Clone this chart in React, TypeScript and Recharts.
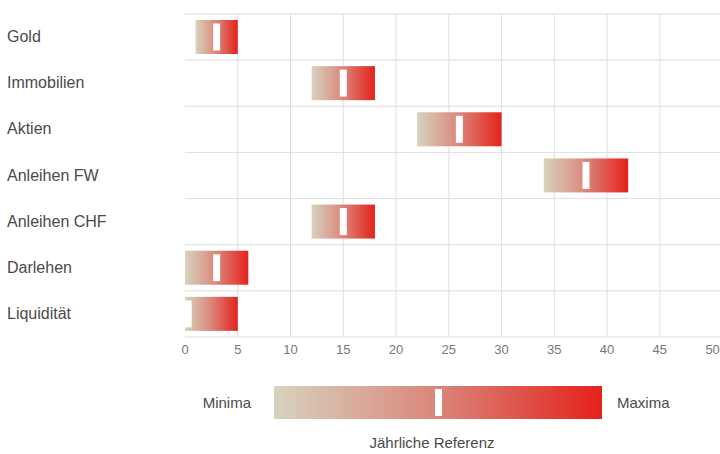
import { BarChart, Bar, XAxis, YAxis, CartesianGrid } from 'recharts'

const categories = ['Gold', 'Immobilien', 'Aktien', 'Anleihen FW', 'Anleihen CHF', 'Darlehen', 'Liquidität']
const minima = [1, 12, 22, 34, 12, 0, 0]
const maxima = [5, 18, 30, 42, 18, 6, 5]
const referenz = [3, 15, 26, 38, 15, 3, 0.3]
const xTicks = [0, 5, 10, 15, 20, 25, 30, 35, 40, 45, 50]
const gridXTicks = [5, 10, 15, 20, 25, 30, 35, 40, 45]
const X_MAX = 50.7

const data = categories.map((name, i) => ({
  name,
  range: [minima[i], maxima[i]],
  min: minima[i],
  max: maxima[i],
  ref: referenz[i],
}))

const FONT = '"Liberation Sans", Arial, Helvetica, sans-serif'

function RangeShape(props: any) {
  const { x, y, width, height, payload } = props
  const t = (payload.ref - payload.min) / (payload.max - payload.min)
  const mx = x + t * width
  return (
    <g>
      <rect x={x} y={y} width={width} height={height} fill="url(#rangeGrad)" />
      <rect x={mx - 3.5} y={y + 3.5} width={7} height={height - 7} fill="#fff" />
    </g>
  )
}

function CategoryTick(props: any) {
  const { y, payload } = props
  return (
    <text x={7} y={y} dy={5} textAnchor="start" fontSize={16} fill="#4a4a4a" fontFamily={FONT}>
      {payload.value}
    </text>
  )
}

// vertical lines between 0 and 50, through the x scale when it is available
function verticalLines({ xAxis, offset }: any) {
  return gridXTicks.map((v) =>
    xAxis && typeof xAxis.scale === 'function'
      ? xAxis.scale(v)
      : offset.left + (v / X_MAX) * offset.width
  )
}

// horizontal lines on the borders of each category band
function horizontalLines({ offset }: any) {
  const step = offset.height / categories.length
  return [...categories.map((_, i) => offset.top + i * step), offset.top + offset.height]
}

export default function App() {
  return (
    <div style={{ position: 'absolute', left: 0, top: 0, width: 720, height: 454, background: '#fff', fontFamily: FONT }}>
      <BarChart
        width={720}
        height={454}
        data={data}
        layout="vertical"
        margin={{ top: 14, right: 0, left: 0, bottom: 87 }}
      >
        <defs>
          <linearGradient id="rangeGrad" x1="0" y1="0" x2="1" y2="0">
            <stop offset="0%" stopColor="#d6d3be" />
            <stop offset="50%" stopColor="#db857a" />
            <stop offset="100%" stopColor="#e3221b" />
          </linearGradient>
        </defs>
        <CartesianGrid
          stroke="#dedede"
          strokeWidth={1}
          verticalCoordinatesGenerator={verticalLines}
          horizontalCoordinatesGenerator={horizontalLines}
        />
        <XAxis
          type="number"
          domain={[0, X_MAX]}
          ticks={xTicks}
          axisLine={false}
          tickLine={false}
          height={30}
          tick={{ fontSize: 13, fill: '#777', fontFamily: FONT }}
        />
        <YAxis
          type="category"
          dataKey="name"
          width={185}
          axisLine={false}
          tickLine={false}
          tick={<CategoryTick />}
        />
        <Bar dataKey="range" barSize={34} shape={<RangeShape />} isAnimationActive={false} />
      </BarChart>
      <div style={{ position: 'absolute', left: 150, top: 386, width: 101, height: 33, lineHeight: '33px', textAlign: 'right', fontSize: 15, color: '#4a4a4a' }}>
        Minima
      </div>
      <div
        style={{
          position: 'absolute',
          left: 274,
          top: 386,
          width: 328,
          height: 33,
          background: 'linear-gradient(to right, #d6d3be 0%, #db857a 50%, #e3221b 100%)',
        }}
      />
      <div style={{ position: 'absolute', left: 435, top: 389, width: 7, height: 27, background: '#fff' }} />
      <div style={{ position: 'absolute', left: 617, top: 386, width: 100, height: 33, lineHeight: '33px', fontSize: 15, color: '#4a4a4a' }}>
        Maxima
      </div>
      <div style={{ position: 'absolute', left: 332, top: 434, width: 200, textAlign: 'center', fontSize: 15, color: '#4a4a4a' }}>
        Jährliche Referenz
      </div>
    </div>
  )
}
